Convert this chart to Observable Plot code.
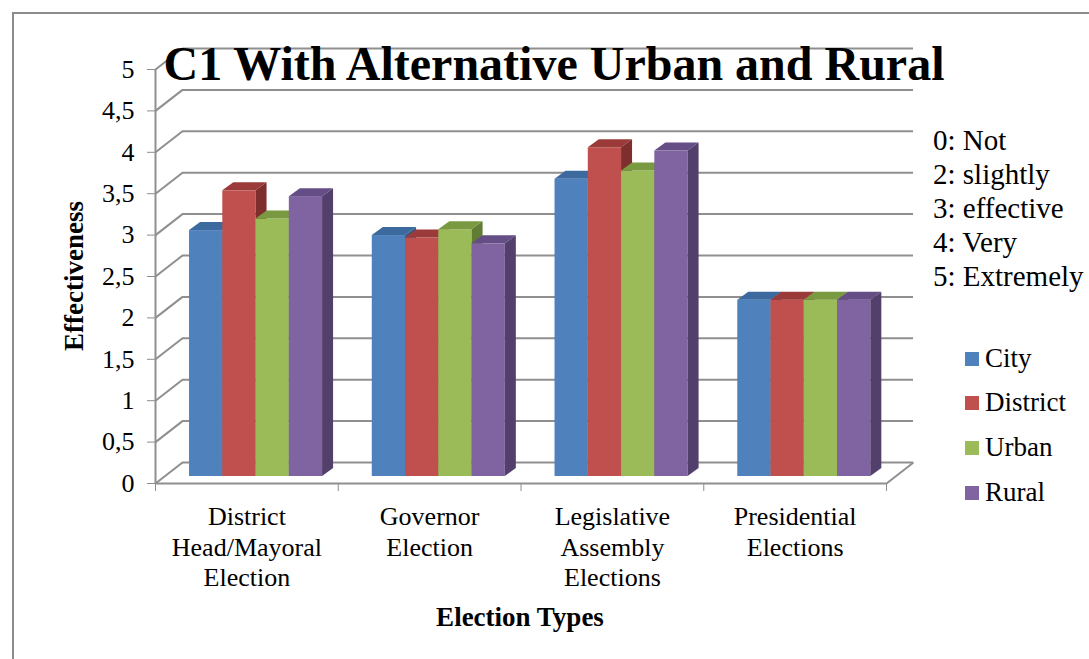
<!DOCTYPE html>
<html>
<head>
<meta charset="utf-8">
<script src="https://cdn.jsdelivr.net/npm/d3@7"></script>
<script src="https://cdn.jsdelivr.net/npm/@observablehq/plot@0.6"></script>
<style>
  body { margin: 0; background: #fff; }
  #wrap { position: relative; width: 1089px; height: 659px; overflow: hidden;
          font-family: "Liberation Serif", "Times New Roman", serif; color: #000; background: #fff; }
  #frame { position: absolute; left: 12px; top: 12px; width: 1200px; height: 800px;
           border-left: 2px solid #8c8c8c; border-top: 2px solid #8c8c8c; box-sizing: border-box; }
  #chart { position: absolute; left: 0; top: 0; }
  #chart svg [aria-label^="y-axis"], #chart svg [aria-label^="x-axis"] { color: #8c8c8c; }
  #chart svg [aria-label^="y-axis"] text { fill: #000; font-size: 26px; font-family: "Liberation Serif", serif; }
  .t { position: absolute; white-space: nowrap; line-height: 1; font-family: "Liberation Serif", "Times New Roman", serif; }
  #title { left: 554px; top: 40px; transform: translateX(-50%); font-size: 48px; font-weight: bold; }
  #ylab { left: 74px; top: 276px; transform: translate(-50%, -50%) rotate(-90deg); font-size: 27px; font-weight: bold; }
  #xlab { left: 520px; top: 604px; transform: translateX(-50%); font-size: 27px; font-weight: bold; }
  .note { font-size: 29px; left: 933px; }
  .leg { font-size: 27px; left: 965px; display: flex; align-items: center; }
  .leg span.sw { display: inline-block; width: 14px; height: 14px; margin-right: 6px; }
</style>
</head>
<body>
<div id="wrap">
  <div id="frame"></div>
  <div id="chart"></div>
  <div class="t" id="title"></div>
  <div class="t" id="ylab"></div>
  <div class="t" id="xlab"></div>
</div>
<script>
// ---------- data ----------
const categories = ["District Head/Mayoral Election", "Governor Election", "Legislative Assembly Elections", "Presidential Elections"];
const categoryLabels = ["District\nHead/Mayoral\nElection", "Governor\nElection", "Legislative\nAssembly\nElections", "Presidential\nElections"];
const seriesNames = ["City", "District", "Urban", "Rural"];
const cityValues     = [2.97, 2.91, 3.59, 2.13];
const districtValues = [3.45, 2.88, 3.97, 2.13];
const urbanValues    = [3.11, 2.98, 3.69, 2.13];
const ruralValues    = [3.38, 2.81, 3.93, 2.13];
const yTickValues = [0, 0.5, 1, 1.5, 2, 2.5, 3, 3.5, 4, 4.5, 5];
const yTickLabels = ["0", "0,5", "1", "1,5", "2", "2,5", "3", "3,5", "4", "4,5", "5"];
const scaleNotes = ["0: Not", "2: slightly", "3: effective", "4: Very", "5: Extremely"];
const titleText = "C1 With Alternative Urban and Rural";
const yTitle = "Effectiveness";
const xTitle = "Election Types";

// ---------- styles ----------
const frontColors = ["#4F81BD", "#C0504D", "#9BBB59", "#8064A2"];
const topColors   = ["#3D6A9E", "#9A3B39", "#7A9A42", "#644E85"];
const sideColors  = ["#355A86", "#7E2F2D", "#617C33", "#523F6C"];
const gridColor = "#8f8f8f";

// ---------- layout ----------
const W = 1089, H = 659;
const X0 = 155, X1 = 886, Y0 = 483, Y1 = 69;
const pxX = (X1 - X0) / categories.length;   // pixels per category unit
const pxY = (Y0 - Y1) / 5;                  // pixels per value unit
const WX = 27 / pxX, WY = 21 / pxY;         // wall depth in data units
const BX = 9 / pxX,  BY = 7 / pxY;          // bar front plane offset
const DX = 11 / pxX, DY = 8 / pxY;          // bar depth
const GROUP_START = 0.137, BAR_W = 0.182;

const valueSets = [cityValues, districtValues, urbanValues, ruralValues];
const rows = [];
valueSets.forEach((vals, si) => vals.forEach((v, ci) => {
  const xl = ci + GROUP_START + si * BAR_W + BX;
  rows.push({ci, si, series: seriesNames[si], category: categories[ci], value: v,
             xl, xr: xl + BAR_W, yb: BY, yt: v + BY});
}));

// faces as vertex tables
function topFace(r) {
  return [
    {k: r.ci, x: r.xl,      y1: r.yt,      y2: r.yt},
    {k: r.ci, x: r.xl + DX, y1: r.yt,      y2: r.yt + DY},
    {k: r.ci, x: r.xr,      y1: r.yt,      y2: r.yt + DY},
    {k: r.ci, x: r.xr + DX, y1: r.yt + DY, y2: r.yt + DY}
  ];
}
function sideFace(r) {
  return [
    {k: r.ci, x: r.xr,      y1: r.yb,      y2: r.yt},
    {k: r.ci, x: r.xr + DX, y1: r.yb + DY, y2: r.yt + DY}
  ];
}

const barMarks = [];
seriesNames.forEach((name, si) => {
  const rs = rows.filter(r => r.si === si);
  barMarks.push(Plot.rect(rs, {x1: "xl", x2: "xr", y1: "yb", y2: "yt", fill: frontColors[si]}));
  barMarks.push(Plot.areaY(rs.flatMap(topFace), {x: "x", y1: "y1", y2: "y2", z: "k", fill: topColors[si]}));
  barMarks.push(Plot.areaY(rs.flatMap(sideFace), {x: "x", y1: "y1", y2: "y2", z: "k", fill: sideColors[si]}));
});

const nCat = categories.length;
const chart = Plot.plot({
  width: W, height: H,
  marginLeft: X0, marginRight: W - X1, marginTop: Y1, marginBottom: H - Y0,
  style: {fontFamily: "Liberation Serif, serif", fontSize: "26px", background: "transparent"},
  x: {domain: [0, nCat], ticks: d3.range(nCat + 1), tickFormat: () => "", tickSize: 8, label: null},
  y: {domain: [0, 5], ticks: yTickValues, tickFormat: d => yTickLabels[yTickValues.indexOf(d)], tickSize: 8, tickPadding: 13, label: null},
  marks: [
    Plot.ruleY(yTickValues, {y: d => d + WY, x1: WX, x2: nCat + WX, stroke: gridColor, strokeWidth: 2}),
    Plot.link(yTickValues, {x1: 0, y1: d => d, x2: WX, y2: d => d + WY, stroke: gridColor, strokeWidth: 2}),
    Plot.link([nCat], {x1: d => d, y1: 0, x2: d => d + WX, y2: WY, stroke: gridColor, strokeWidth: 2}),
    Plot.ruleY([0], {x1: 0, x2: nCat, stroke: gridColor, strokeWidth: 2}),
    Plot.ruleX([0], {y1: 0, y2: 5, stroke: gridColor, strokeWidth: 2}),
    ...barMarks,
    Plot.text(categoryLabels, {x: (d, i) => i + 0.5, y: 0, text: d => d, lineAnchor: "top", dy: 20,
      lineHeight: 1.17, fontSize: 26, fill: "#000"})
  ]
});
document.getElementById("chart").appendChild(chart);

document.getElementById("title").textContent = titleText;
document.getElementById("ylab").textContent = yTitle;
document.getElementById("xlab").textContent = xTitle;

const wrap = document.getElementById("wrap");
const noteTops = [126, 160, 194, 228, 262];
scaleNotes.forEach((n, i) => {
  const d = document.createElement("div");
  d.className = "t note";
  d.style.top = noteTops[i] + "px";
  d.textContent = n;
  wrap.appendChild(d);
});
const legTops = [345, 389, 434, 479];
seriesNames.forEach((n, i) => {
  const d = document.createElement("div");
  d.className = "t leg";
  d.style.top = legTops[i] + "px";
  const sw = document.createElement("span");
  sw.className = "sw";
  sw.style.background = frontColors[i];
  d.appendChild(sw);
  d.appendChild(document.createTextNode(n));
  wrap.appendChild(d);
});
</script>
</body>
</html>
